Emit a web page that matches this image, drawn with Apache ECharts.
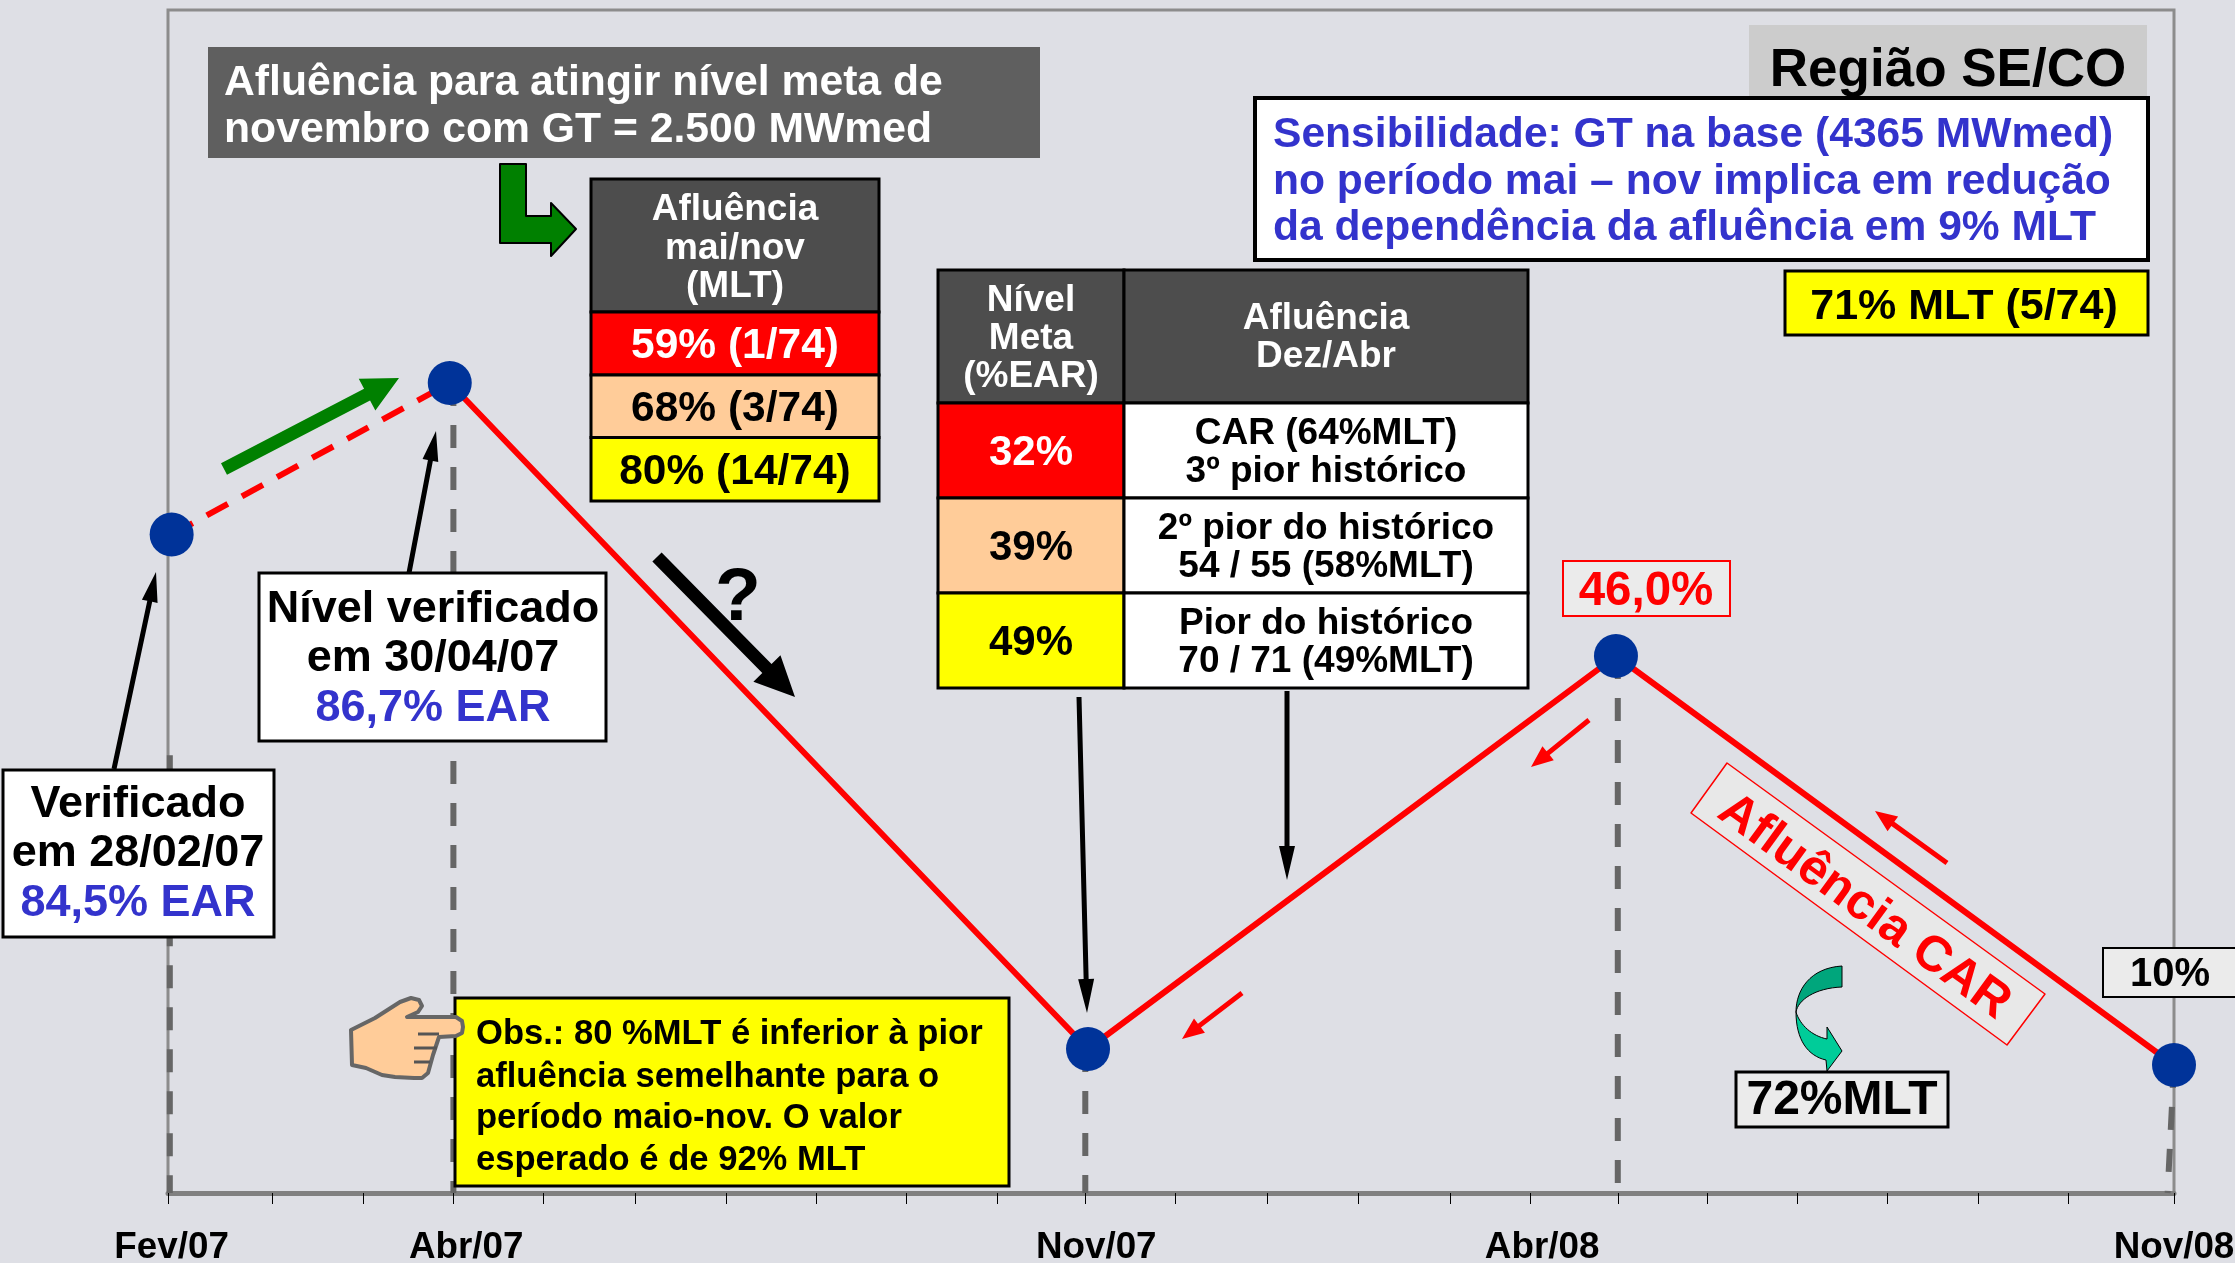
<!DOCTYPE html>
<html>
<head>
<meta charset="utf-8">
<style>
  html, body { margin: 0; padding: 0; background: #dedfe5; }
  #chart { width: 2235px; height: 1263px; }
</style>
<script src="https://cdn.jsdelivr.net/npm/echarts@6/dist/echarts.min.js"></script>
</head>
<body>
<div id="chart"></div>
<script>
// axis is not a true time scale in the slide, positions are in "tick units" (0 to 22)
const tickLabels = ['Fev/07', 'Abr/07', 'Nov/07', 'Abr/08', 'Nov/08'];
const labelPos = [0.04, 3.27, 10.18, 15.07, 22];
const tickPos = [0, 1.14, 2.14, 3.13, 4.12, 5.12, 6.12, 7.11, 8.10, 9.09, 10.06, 11.05,
  12.06, 13.05, 14.06, 14.94, 15.91, 16.88, 17.87, 18.86, 19.85, 20.84, 22];

// plotted height of the points (the first two are drawn schematically, not at 84,5 / 86,7)
const pointPos = [0.04, 3.09, 10.09, 15.88, 22];
const pointLevel = [55.66, 68.47, 12.17, 45.39, 10.82];

// dashed drop lines
const dropPos = [0.02, 3.13, 10.06, 15.9, 22];
const dropEnd = [0.02, 3.13, 10.06, 15.9, 21.93];
const dropTop = [37, 68.47, 12.17, 45.39, 10.82];

const titleLines = ['Afluência para atingir nível meta de', 'novembro com GT = 2.500 MWmed'];
const table1Head = ['Afluência', 'mai/nov', '(MLT)'];
const table1Rows = ['59% (1/74)', '68% (3/74)', '80% (14/74)'];
const table2HeadA = ['Nível', 'Meta', '(%EAR)'];
const table2HeadB = ['Afluência', 'Dez/Abr'];
const table2Meta = ['32%', '39%', '49%'];
const table2Text = [
  ['CAR (64%MLT)', '3º pior histórico'],
  ['2º pior do histórico', '54 / 55 (58%MLT)'],
  ['Pior do histórico', '70 / 71 (49%MLT)']
];
const sensLines = ['Sensibilidade: GT na base (4365 MWmed)', 'no período mai – nov implica em redução', 'da dependência da afluência em 9% MLT'];
const obsLines = ['Obs.: 80 %MLT é inferior à pior', 'afluência semelhante para o', 'período maio-nov. O valor', 'esperado é de 92% MLT'];

const BLUE = '#3333cc', RED = '#ff0000', YEL = '#ffff00', PEACH = '#ffcc99', DARK = '#4d4d4d', BOX = '#ebebeb';
const rowFill = [RED, PEACH, YEL];
const rowText = ['#fff', '#000', '#000'];

const els = [];
let z = 20;

function rect(x, y, w, h, fill, stroke, lw) {
  els.push({ type: 'rect', z: z++, shape: { x: x, y: y, width: w, height: h },
    style: { fill: fill, stroke: stroke || 'none', lineWidth: lw || 0 } });
}
function text(str, x, y, size, color, align, rot) {
  els.push({ type: 'text', z: z++, x: x, y: y + 3, rotation: rot || 0, silent: true,
    style: { text: str, x: 0, y: 0, fill: color, font: 'bold ' + size + 'px "Liberation Sans", Arial, sans-serif',
      align: align || 'center', verticalAlign: 'middle', textAlign: align || 'center', textVerticalAlign: 'middle' } });
}
function poly(pts, fill, stroke, lw) {
  els.push({ type: 'polygon', z: z++, shape: { points: pts },
    style: { fill: fill, stroke: stroke || 'none', lineWidth: lw || 0, lineJoin: 'round' } });
}
function line(x1, y1, x2, y2, color, lw) {
  els.push({ type: 'line', z: z++, shape: { x1: x1, y1: y1, x2: x2, y2: y2 },
    style: { stroke: color, lineWidth: lw } });
}
// samples a cubic curve into polygon points, for the teal arrow
function bez(p0, p1, p2, p3) {
  const out = [];
  for (let i = 0; i <= 16; i++) {
    const t = i / 16, s = 1 - t;
    out.push([
      s * s * s * p0[0] + 3 * s * s * t * p1[0] + 3 * s * t * t * p2[0] + t * t * t * p3[0],
      s * s * s * p0[1] + 3 * s * s * t * p1[1] + 3 * s * t * t * p2[1] + t * t * t * p3[1]
    ]);
  }
  return out;
}
// straight block arrow
function arrow(x1, y1, x2, y2, w, headW, headL, color) {
  const len = Math.hypot(x2 - x1, y2 - y1);
  const ux = (x2 - x1) / len, uy = (y2 - y1) / len;
  const nx = -uy, ny = ux;
  const bx = x2 - ux * headL, by = y2 - uy * headL;
  poly([
    [x1 + nx * w / 2, y1 + ny * w / 2],
    [bx + nx * w / 2, by + ny * w / 2],
    [bx + nx * headW / 2, by + ny * headW / 2],
    [x2, y2],
    [bx - nx * headW / 2, by - ny * headW / 2],
    [bx - nx * w / 2, by - ny * w / 2],
    [x1 - nx * w / 2, y1 - ny * w / 2]
  ], color);
}

// title box
rect(208, 47, 832, 111, '#5f5f5f');
text(titleLines[0], 224, 80, 42.7, '#fff', 'left');
text(titleLines[1], 224, 127, 42.7, '#fff', 'left');

// green bent arrow
poly([[500, 164], [526, 164], [526, 216], [551, 216], [551, 203], [576, 229], [551, 256], [551, 243], [500, 243]], '#008000', '#000', 2);

// table 1
rect(591, 179, 288, 133, DARK, '#000', 3);
[207, 246, 284].forEach(function (y, i) { text(table1Head[i], 735, y, 37, '#fff'); });
[[312, 63], [375, 62.5], [437.5, 63.5]].forEach(function (r, i) {
  rect(591, r[0], 288, r[1], rowFill[i], '#000', 3);
  text(table1Rows[i], 735, r[0] + r[1] / 2, 42.5, rowText[i]);
});

// region
rect(1749, 25, 398, 71, '#cccccc');
text('Região SE/CO', 1948, 68, 53, '#000');

// sensitivity
rect(1255, 98, 893, 162, '#fff', '#000', 4);
[132, 179, 225].forEach(function (y, i) { text(sensLines[i], 1273, y, 42.6, BLUE, 'left'); });
rect(1785, 271, 363, 64, YEL, '#000', 3);
text('71% MLT (5/74)', 1964, 304, 43, '#000');

// table 2
rect(938, 270, 186, 133, DARK, '#000', 3);
rect(1124, 270, 404, 133, DARK, '#000', 3);
[298, 336, 374].forEach(function (y, i) { text(table2HeadA[i], 1031, y, 37, '#fff'); });
[316, 354].forEach(function (y, i) { text(table2HeadB[i], 1326, y, 37, '#fff'); });
[[403, 95], [498, 95], [593, 95]].forEach(function (r, i) {
  rect(938, r[0], 186, r[1], rowFill[i], '#000', 3);
  rect(1124, r[0], 404, r[1], '#fff', '#000', 3);
  text(table2Meta[i], 1031, r[0] + 47, 42, rowText[i]);
  text(table2Text[i][0], 1326, r[0] + 28, 37, '#000');
  text(table2Text[i][1], 1326, r[0] + 66, 37, '#000');
});

// verified boxes
rect(259, 573, 347, 168, '#fff', '#000', 3);
text('Nível verificado', 433, 607, 45, '#000');
text('em 30/04/07', 433, 656, 45, '#000');
text('86,7% EAR', 433, 706, 45, BLUE);
rect(3, 770, 271, 167, '#fff', '#000', 3);
text('Verificado', 138, 802, 45, '#000');
text('em 28/02/07', 138, 851, 45, '#000');
text('84,5% EAR', 138, 901, 45, BLUE);

// arrows
arrow(224, 469, 399, 378, 13, 36, 36, '#008000');
arrow(114, 769, 156, 572, 5, 16, 30, '#000');
arrow(409, 573, 436, 431, 5, 16, 30, '#000');
arrow(657, 557, 795, 697, 13, 38, 40, '#000');
text('?', 738, 596, 75, '#000');
arrow(1079, 697, 1087, 1013, 5, 16, 34, '#000');
arrow(1287, 691, 1287, 880, 5, 16, 34, '#000');
arrow(1589, 720, 1531, 767, 5, 18, 22, RED);
arrow(1242, 993, 1182, 1039, 5, 18, 22, RED);
arrow(1947, 863, 1875, 811, 5, 18, 22, RED);

// labels near the line
rect(1563, 561, 167, 55, BOX, RED, 2);
text('46,0%', 1646, 589, 47.5, RED);
poly([[1727, 763], [2045, 994], [2007, 1045], [1691, 813]], '#e8e8e8', RED, 1.5);
text('Afluência CAR', 1864, 904, 50, RED, 'center', -36 * Math.PI / 180);
rect(2103, 948, 140, 49, BOX, '#000', 2);
text('10%', 2170, 972, 40, '#000');
rect(1736, 1072, 212, 55, BOX, '#000', 3);
text('72%MLT', 1842, 1098, 48, '#000');

// curved teal arrow
poly(bez([1842, 966], [1810, 968], [1796, 990], [1796, 1012])
  .concat(bez([1796, 1012], [1798, 1000], [1815, 988], [1842, 987])), '#00a67c', '#000', 1);
poly(bez([1796, 1012], [1796, 1040], [1808, 1056], [1826, 1060])
  .concat([[1827, 1071], [1842, 1051], [1827, 1027], [1827, 1039]])
  .concat(bez([1827, 1039], [1812, 1036], [1800, 1025], [1796, 1012])), '#00cc99', '#000', 1);

// obs box and hand
rect(455, 998, 554, 188, YEL, '#000', 3);
[1031, 1074, 1115, 1157].forEach(function (y, i) { text(obsLines[i], 476, y, 34.6, '#000', 'left'); });
poly([[351, 1030], [375, 1018], [400, 1002], [411, 998], [419, 1000], [422, 1006], [418, 1012], [407, 1017],
  [456, 1017], [462, 1021], [463, 1027], [462, 1033], [456, 1036], [439, 1037], [433, 1055], [428, 1073],
  [422, 1078], [414, 1078], [395, 1077], [382, 1075], [366, 1068], [352, 1065]], PEACH, '#666', 4);
line(418, 1034, 439, 1034, '#555', 3);
line(414, 1048, 437, 1048, '#555', 3);
line(414, 1062, 430, 1062, '#555', 3);

const points = pointPos.map(function (x, i) { return [x, pointLevel[i]]; });
const dropSeries = dropPos.map(function (x, i) {
  return {
    type: 'line', data: [[x, dropTop[i]], [dropEnd[i], 0]], showSymbol: false, z: 3,
    lineStyle: { color: '#666666', width: 6, type: [23, 19] }
  };
});

const chart = echarts.init(document.getElementById('chart'));
chart.setOption({
  animation: false,
  backgroundColor: '#dedfe5',
  grid: { left: 168, right: 61, top: 10, bottom: 70, outerBoundsMode: 'none', show: true, borderColor: '#8c8c8c', borderWidth: 3, backgroundColor: 'transparent' },
  xAxis: {
    type: 'value', min: 0, max: 22, splitLine: { show: false },
    axisLine: { lineStyle: { color: '#808080', width: 5 } },
    axisTick: { show: true, length: 11, customValues: tickPos, lineStyle: { color: '#000', width: 1 } },
    axisLabel: {
      customValues: labelPos, margin: 36, hideOverlap: false, showMinLabel: true, showMaxLabel: true,
      color: '#000', fontWeight: 'bold', fontSize: 36.8, fontFamily: '"Liberation Sans", Arial, sans-serif',
      formatter: function (value) { return tickLabels[labelPos.indexOf(value)]; }
    }
  },
  yAxis: { type: 'value', min: 0, max: 100, show: false },
  series: dropSeries.concat([
    { type: 'line', data: points.slice(0, 2), showSymbol: false, z: 4, lineStyle: { color: RED, width: 6, type: [24, 16] } },
    { type: 'line', data: points.slice(1), showSymbol: false, z: 4, lineStyle: { color: RED, width: 6 } },
    { type: 'scatter', data: points, symbol: 'circle', symbolSize: 44, z: 5, itemStyle: { color: '#003399', opacity: 1 } }
  ]),
  graphic: { elements: els }
});
</script>
</body>
</html>
